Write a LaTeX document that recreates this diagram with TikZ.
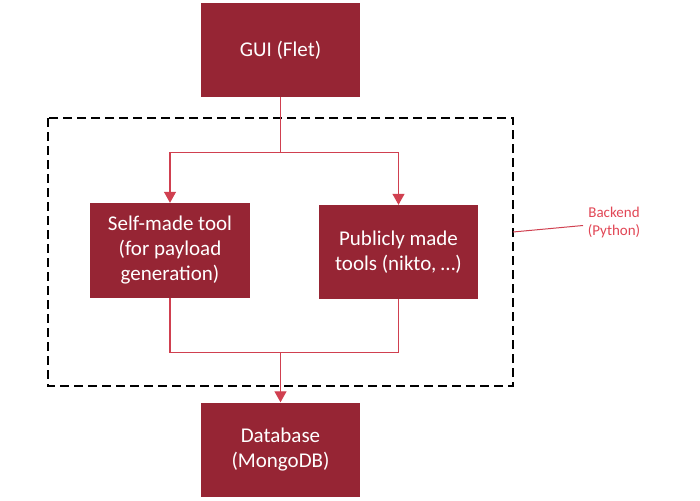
\documentclass[tikz,border=0pt]{standalone}
\usepackage{fontspec}
\setmainfont{Carlito}
\usetikzlibrary{arrows.meta}
\definecolor{boxred}{RGB}{150,37,52}
\definecolor{linered}{RGB}{208,64,80}
\definecolor{labelred}{RGB}{225,70,85}
\begin{document}
\begin{tikzpicture}[x=1pt,y=-1pt,
  box/.style={draw=none, fill=boxred, text=white, minimum width=159pt, minimum height=94pt,
    align=center, inner sep=0pt, font=\fontsize{21}{25}\selectfont},
  conn/.style={draw=linered, line width=1.2pt},
  arr/.style={conn, -{Triangle[length=11pt,width=12pt]}},
  group/.style={draw=black, line width=1.3pt, dash pattern=on 9pt off 5pt},
  note/.style={text=labelred, align=center, inner sep=0pt, font=\fontsize{15}{18}\selectfont}]
\useasboundingbox (0,0) rectangle (700,500);
\node[box] (gui) at (280.5,50) {GUI (Flet)};
\node[box, minimum width=160pt, minimum height=95pt] (self) at (170,250.5) {Self-made tool\\(for payload\\generation)};
\node[box] (pub) at (398.5,252) {Publicly made\\tools (nikto, \dots)};
\node[box] (db) at (280.5,449.5) {Database\\(MongoDB)};
\draw[group] (48,118) rectangle (513,386);
\node[note] (backend) at (614,222) {Backend\\(Python)};
\coordinate (split) at (280.5,152.5);
\coordinate (splitL) at (170,152.5);
\coordinate (splitR) at (398.5,152.5);
\coordinate (join) at (280.5,352.5);
\coordinate (joinL) at (170,352.5);
\coordinate (joinR) at (398.5,352.5);
\coordinate (bk) at (513,232);
\coordinate (bkend) at (583,225.5);
\draw[conn] (gui.south) -- (split);
\draw[arr] (split) -- (splitL) -- (self.north);
\draw[arr] (split) -- (splitR) -- (pub.north);
\draw[conn] (self.south) -- (joinL) -- (joinR) -- (pub.south);
\draw[arr] (join) -- (db.north);
\draw[conn, line width=1pt] (bk) -- (bkend);
\end{tikzpicture}
\end{document}
